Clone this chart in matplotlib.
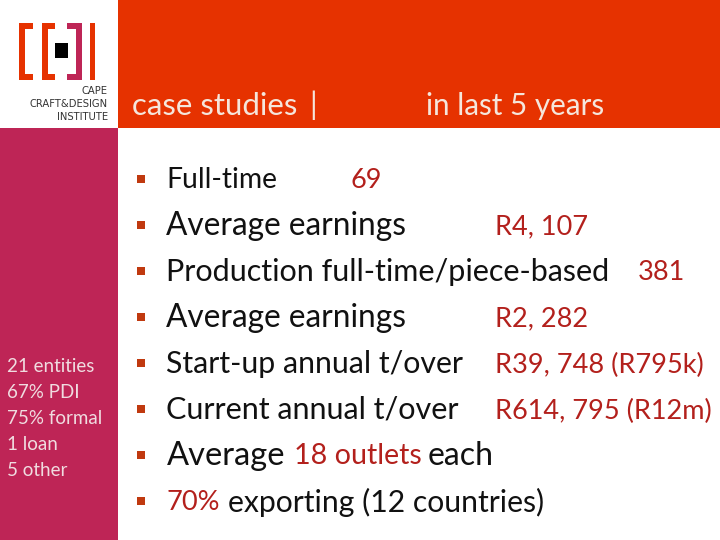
import matplotlib.pyplot as plt
from matplotlib.patches import Rectangle

plt.rcParams['font.family'] = ['Lato', 'DejaVu Sans']

ORANGE = '#E63200'
CRIMSON = '#BE2556'
DARKRED = '#B3201C'
BLACK = '#111111'

# bullet rows: label, then the value in red
labels = ["Full-time", "Average earnings", "Production full-time/piece-based", "Average earnings",
          "Start-up annual t/over", "Current annual t/over"]
values = ["69", "R4, 107", "381", "R2, 282", "R39, 748 (R795k)", "R614, 795 (R12m)"]
value_x = [351, 495, 638, 495, 495, 495]
label_size = [20.3, 22.8, 22, 22.8, 21.8, 22]
row_y = [179, 225, 271, 317, 363, 409, 455, 501]

side_notes = ["21 entities", "67% PDI", "75% formal", "1 loan", "5 other"]
side_y = [367, 393, 419, 445, 471]

logo_lines = ["CAPE", "CRAFT&DESIGN", "INSTITUTE"]
logo_y = [91, 104, 117]

fig = plt.figure(figsize=(7.2, 5.4), dpi=100)
ax = fig.add_axes([0, 0, 1, 1])
ax.set_xlim(0, 720)
ax.set_ylim(540, 0)
ax.axis('off')


def box(x0, y0, x1, y1, color):
    ax.add_patch(Rectangle((x0, y0), x1 - x0, y1 - y0, facecolor=color, edgecolor='none'))


# background blocks
box(118, 0, 720, 128, ORANGE)
box(0, 128, 118, 540, CRIMSON)

# logo brackets
for x0, x1, x2, col in [(19, 25, 33, ORANGE), (42, 48, 55, ORANGE)]:
    box(x0, 23, x1, 80, col)
    box(x0, 23, x2, 29, col)
    box(x0, 74, x2, 80, col)
box(76, 23, 82, 80, CRIMSON)
box(67, 23, 82, 29, CRIMSON)
box(67, 74, 82, 80, CRIMSON)
box(90, 23, 95, 80, ORANGE)
box(55, 43, 68, 58, 'black')

for line, y in zip(logo_lines, logo_y):
    ax.text(108, y, line, fontsize=7.2, color='#333333', ha='right', va='center', family='DejaVu Sans')

# header
ax.text(132, 106, "case studies", fontsize=22.4, color='#F5E6DC', va='center')
ax.text(313, 105, "|", fontsize=22, color='#F5E6DC', va='center', ha='center')
ax.text(426, 106, "in last 5 years", fontsize=21.3, color='#F5E6DC', va='center')

# sidebar notes
for note, y in zip(side_notes, side_y):
    ax.text(7, y, note, fontsize=13.5, color='#F0DCE0', va='center')

# bullets
for y in row_y:
    box(137, y - 4, 145, y + 4, '#C0390F')

for lab, val, vx, sz, y in zip(labels, values, value_x, label_size, row_y):
    ax.text(166.5, y + 1, lab, fontsize=sz, color=BLACK, va='center')
    ax.text(vx, y + 2, val, fontsize=19.5, color=DARKRED, va='center')

# last two rows mix colours
y = row_y[6]
ax.text(166.5, y + 1, "Average", fontsize=23.5, color=BLACK, va='center')
ax.text(294, y + 1, "18 outlets", fontsize=20.6, color=DARKRED, va='center')
ax.text(428, y + 1, "each", fontsize=23, color=BLACK, va='center')
y = row_y[7]
ax.text(167, y + 2, "70%", fontsize=19.5, color=DARKRED, va='center')
ax.text(228, y + 1, "exporting (12 countries)", fontsize=21.7, color=BLACK, va='center')

fig.savefig('out.png', dpi=100)
